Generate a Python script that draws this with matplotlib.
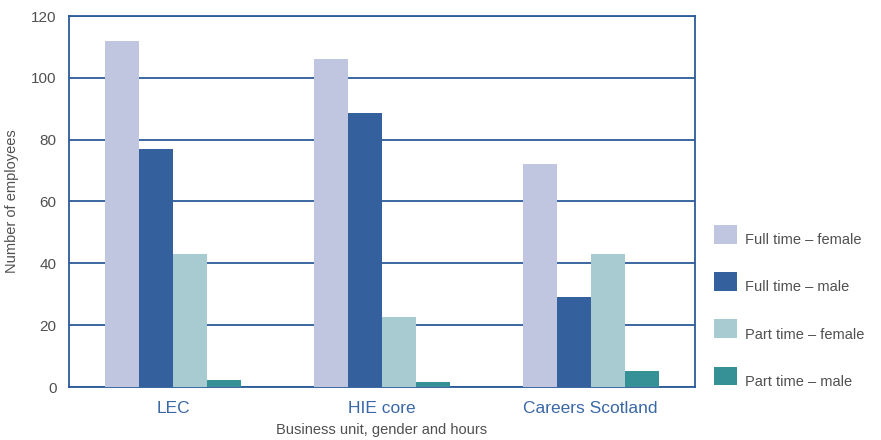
import matplotlib
matplotlib.use("Agg")
import matplotlib.pyplot as plt
from matplotlib.patches import Patch
import numpy as np

plt.rcParams['font.family'] = ['Liberation Sans', 'DejaVu Sans']

categories = ["LEC", "HIE core", "Careers Scotland"]
series_names = ["Full time \u2013 female", "Full time \u2013 male",
                "Part time \u2013 female", "Part time \u2013 male"]
ft_female = [112, 106, 72]
ft_male = [77, 88.5, 29]
pt_female = [43, 22.5, 43]
pt_male = [2.3, 1.7, 5.2]
yticks = [0, 20, 40, 60, 80, 100, 120]

colors = ["#c1c6e0", "#35609e", "#a8cbd1", "#359196"]
grid_c = "#2c5b99"
text_c = "#505050"
tick_blue = "#3a68a6"

fig = plt.figure(figsize=(8.81, 4.40), dpi=100)
ax = fig.add_axes([69/881, 1-387/440, (695-69)/881, (387-16)/440])

x = np.arange(len(categories))
w = 0.163
series = [ft_female, ft_male, pt_female, pt_male]
for i, (vals, c) in enumerate(zip(series, colors)):
    ax.bar(x + (i - 1.5) * w, vals, width=w, color=c, zorder=3, linewidth=0)

ax.set_xlim(-0.5, 2.5)
ax.set_ylim(0, 120)
ax.set_yticks(yticks)
ax.set_xticks(x)
ax.set_xticklabels(categories, color=tick_blue, fontsize=12.5)
ax.tick_params(axis='y', labelsize=11, labelcolor=text_c, length=0, pad=9)
ax.tick_params(axis='x', length=0, pad=10)
ax.yaxis.grid(True, color=grid_c, linewidth=1.3, zorder=1)
ax.set_axisbelow(True)
for s in ax.spines.values():
    s.set_color(grid_c)
    s.set_linewidth(1.3)

ax.set_ylabel("Number of employees", fontsize=10.5, color=text_c)
ax.yaxis.set_label_coords(-(69-19)/626, 0.5)
ax.set_xlabel("Business unit, gender and hours", fontsize=10.5, color=text_c, labelpad=5)

handles = [Patch(facecolor=c, edgecolor='none') for c in colors]
leg = fig.legend(handles, series_names, loc='upper left',
                 bbox_to_anchor=(701/881, 1-212/440), frameon=False,
                 fontsize=10.5, handlelength=1.6, handleheight=1.6,
                 labelspacing=1.95, handletextpad=0.5, labelcolor=text_c)
for t in leg.get_texts():
    t.set_y(-5)

fig.savefig("out.png", dpi=100)
